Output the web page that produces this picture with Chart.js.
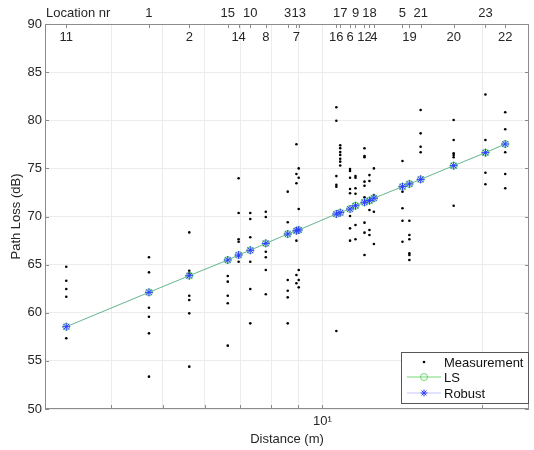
<!DOCTYPE html>
<html lang="en">
  <head>
    <meta charset="UTF-8" />
    <title>Path loss vs distance</title>
    <script src="https://cdn.jsdelivr.net/npm/chart.js@4.4.1/dist/chart.umd.min.js"></script>
    <style>
      html, body { margin: 0; padding: 0; background: #fff; }
    </style>
  </head>
  <body>
    <canvas id="chart" width="534" height="450"></canvas>
    <script>
      // locations, in the order they appear along the distance axis
      const locNr = [11, 1, 2, 15, 14, 10, 8, 3, 7, 13, 16, 17, 6, 9, 12, 18, 4, 5, 19, 21, 20, 23, 22];
      const locDist = [3.29, 4.71, 5.61, 6.63, 6.95, 7.31, 7.82, 8.6, 8.93, 9.02, 10.62, 10.8, 11.27, 11.54, 12.0, 12.26, 12.5, 14.15, 14.58, 15.31, 17.67, 20.28, 22.1];

      // measured path loss (dB), one list per location
      const measured = [
        [64.78, 63.33, 62.47, 61.67, 57.35],
        [65.76, 64.2, 60.52, 59.59, 57.86, 53.36],
        [68.35, 64.37, 64.1, 61.77, 61.32, 59.94, 54.4],
        [63.82, 63.23, 61.77, 60.98, 56.58],
        [73.97, 70.36, 67.63, 67.38, 65.9, 65.3],
        [70.36, 69.74, 67.84, 65.3, 62.47, 58.9],
        [70.5, 69.95, 66.34, 65.76, 64.44, 61.92],
        [72.58, 69.4, 63.4, 62.29, 61.6, 58.9],
        [77.5, 74.42, 73.45, 67.49, 63.92, 63.06],
        [75.0, 74.03, 70.78, 64.44, 63.4, 62.64],
        [81.35, 79.95, 74.2, 73.3, 73.1, 58.1],
        [77.4, 77.1, 76.7, 76.4, 76.0, 75.7, 75.3],
        [74.94, 74.73, 74.03, 72.86, 72.41, 70.05, 68.77, 67.49],
        [74.2, 74.03, 72.93, 72.37, 69.12, 67.63],
        [77.09, 76.29, 76.15, 73.62, 73.2, 72.0, 69.36, 68.32, 66.0],
        [74.3, 73.69, 70.68, 68.6, 68.08],
        [75.0, 72.23, 70.5, 67.14],
        [75.77, 72.58, 70.85, 69.56, 67.38],
        [69.56, 68.08, 67.63, 66.18, 66.0, 65.48],
        [81.06, 78.64, 77.25, 76.67],
        [80.03, 77.95, 76.57, 76.39, 76.15, 71.12],
        [82.68, 77.95, 74.55, 73.35],
        [80.83, 79.06, 76.67, 74.42, 72.93]
      ];

      // fitted path loss at each location (dB)
      const lsFit = [58.55, 62.12, 63.85, 65.48, 66.0, 66.49, 67.21, 68.18, 68.52, 68.6, 70.26, 70.4, 70.78, 71.12, 71.48, 71.65, 71.9, 73.1, 73.38, 73.86, 75.28, 76.63, 77.53];
      const robustFit = [58.55, 62.12, 63.85, 65.48, 66.0, 66.49, 67.21, 68.18, 68.52, 68.6, 70.26, 70.4, 70.78, 71.12, 71.48, 71.65, 71.9, 73.1, 73.38, 73.86, 75.28, 76.63, 77.53];

      const xGridTicks = [4, 5, 6, 7, 8, 9, 10, 20];
      const yTicks = [50, 55, 60, 65, 70, 75, 80, 85, 90];

      const FONT = "'Liberation Sans', Arial, sans-serif";
      const TEXT = "#262626";
      const LS_COLOR = "rgba(70,200,70,0.75)";
      const ROBUST_COLOR = "#2b3cff";

      const measPoints = [];
      measured.forEach((vals, i) => {
        vals.forEach((v) => measPoints.push({ x: locDist[i], y: v }));
      });

      // box, inward ticks, top location axis and legend
      const frame = {
        id: "frame",
        afterDraw(chart) {
          const { ctx, chartArea: a, scales } = chart;
          const xs = scales.x, ys = scales.y;
          ctx.save();
          ctx.strokeStyle = "#8c8c8c";
          ctx.lineWidth = 1;
          ctx.strokeRect(a.left + 0.5, a.top + 0.5, a.right - a.left - 1, a.bottom - a.top - 1);
          ctx.beginPath();
          yTicks.forEach((v) => {
            const py = Math.round(ys.getPixelForValue(v)) + 0.5;
            ctx.moveTo(a.left, py); ctx.lineTo(a.left + 4, py);
            ctx.moveTo(a.right, py); ctx.lineTo(a.right - 4, py);
          });
          xGridTicks.forEach((v) => {
            const px = Math.round(xs.getPixelForValue(v)) + 0.5;
            ctx.moveTo(px, a.bottom); ctx.lineTo(px, a.bottom - 4);
          });
          locDist.forEach((d) => {
            const px = Math.round(xs.getPixelForValue(d)) + 0.5;
            ctx.moveTo(px, a.top); ctx.lineTo(px, a.top + 4);
          });
          ctx.stroke();

          // location numbers, alternating above / below the top axis
          ctx.fillStyle = TEXT;
          ctx.font = "13px " + FONT;
          ctx.textBaseline = "middle";
          ctx.textAlign = "center";
          locNr.forEach((n, i) => {
            const px = xs.getPixelForValue(locDist[i]);
            ctx.fillText(String(n), px, i % 2 ? a.top - 11 : a.top + 13);
          });
          ctx.textAlign = "left";
          ctx.fillText("Location nr", a.left + 1, a.top - 11);

          // legend box
          const lw = 128, lh = 51;
          const lx = a.right - lw, ly = a.bottom - lh - 6;
          ctx.fillStyle = "#fff";
          ctx.fillRect(lx, ly, lw, lh);
          ctx.strokeStyle = "#555";
          ctx.strokeRect(lx + 0.5, ly + 0.5, lw - 1, lh);
          const mx = lx + 23, tx = lx + 43;
          const rows = [ly + 10, ly + 25, ly + 41];
          // measurement
          ctx.fillStyle = "#000";
          ctx.beginPath(); ctx.arc(mx, rows[0], 1.3, 0, Math.PI * 2); ctx.fill();
          // LS
          ctx.strokeStyle = LS_COLOR;
          ctx.beginPath(); ctx.moveTo(mx - 17, rows[1]); ctx.lineTo(mx + 17, rows[1]); ctx.stroke();
          ctx.beginPath(); ctx.arc(mx, rows[1], 3.5, 0, Math.PI * 2); ctx.stroke();
          // robust
          ctx.strokeStyle = "rgba(90,100,255,0.35)";
          ctx.beginPath(); ctx.moveTo(mx - 17, rows[2]); ctx.lineTo(mx + 17, rows[2]); ctx.stroke();
          ctx.strokeStyle = ROBUST_COLOR;
          ctx.beginPath();
          for (let k = 0; k < 4; k++) {
            const ang = (k * Math.PI) / 4;
            ctx.moveTo(mx - 3.5 * Math.cos(ang), rows[2] - 3.5 * Math.sin(ang));
            ctx.lineTo(mx + 3.5 * Math.cos(ang), rows[2] + 3.5 * Math.sin(ang));
          }
          ctx.stroke();
          ctx.fillStyle = "#111";
          ctx.font = "13px " + FONT;
          ctx.fillText("Measurement", tx, rows[0] + 1);
          ctx.fillText("LS", tx, rows[1] + 1);
          ctx.fillText("Robust", tx, rows[2] + 1);
          ctx.restore();
        },
      };

      const ctx = document.getElementById("chart").getContext("2d");
      const myChart = new Chart(ctx, {
        type: "scatter",
        data: {
          datasets: [
            {
              label: "Measurement",
              data: measPoints,
              showLine: false,
              pointRadius: 1.3,
              pointBackgroundColor: "#000",
              pointBorderWidth: 0,
              order: 3,
            },
            {
              label: "LS",
              data: locDist.map((d, i) => ({ x: d, y: lsFit[i] })),
              showLine: true,
              borderColor: LS_COLOR,
              borderWidth: 1,
              pointStyle: "circle",
              pointRadius: 3.5,
              pointBorderColor: LS_COLOR,
              pointBackgroundColor: "rgba(150,200,255,0.35)",
              pointBorderWidth: 1,
              order: 2,
            },
            {
              label: "Robust",
              data: locDist.map((d, i) => ({ x: d, y: robustFit[i] })),
              showLine: true,
              borderColor: "rgba(90,100,255,0.25)",
              borderWidth: 1,
              pointStyle: "star",
              pointRadius: 4,
              pointBorderColor: ROBUST_COLOR,
              pointBorderWidth: 1,
              order: 1,
            },
          ],
        },
        options: {
          responsive: false,
          animation: false,
          layout: { padding: { top: 24, right: 1, left: 0, bottom: 0 } },
          plugins: { legend: { display: false }, tooltip: { enabled: false } },
          scales: {
            x: {
              type: "logarithmic",
              min: 3,
              max: 24.5,
              afterBuildTicks: (s) => { s.ticks = xGridTicks.map((v) => ({ value: v })); },
              afterFit: (s) => { s.height = 41; },
              ticks: {
                autoSkip: false,
                maxRotation: 0,
                padding: 5,
                color: TEXT,
                font: { family: FONT, size: 13 },
                callback: (v) => (v === 10 ? "10\u00b9" : ""),
              },
              grid: { color: "#ececec", drawTicks: false },
              border: { display: false },
              title: {
                display: true,
                text: "Distance (m)",
                color: TEXT,
                font: { family: FONT, size: 13, lineHeight: 1.2 },
                padding: { top: 0, bottom: 3 },
              },
            },
            y: {
              min: 50,
              max: 90,
              afterBuildTicks: (s) => { s.ticks = yTicks.map((v) => ({ value: v })); },
              afterFit: (s) => { s.width = 45; },
              ticks: {
                padding: 3,
                color: TEXT,
                font: { family: FONT, size: 13 },
              },
              grid: { color: "#ececec", drawTicks: false },
              border: { display: false },
              title: {
                display: true,
                text: "Path Loss (dB)",
                color: TEXT,
                font: { family: FONT, size: 13, lineHeight: 1.2 },
                padding: { top: 9, bottom: 0 },
              },
            },
          },
        },
        plugins: [frame],
      });
    </script>
  </body>
</html>
